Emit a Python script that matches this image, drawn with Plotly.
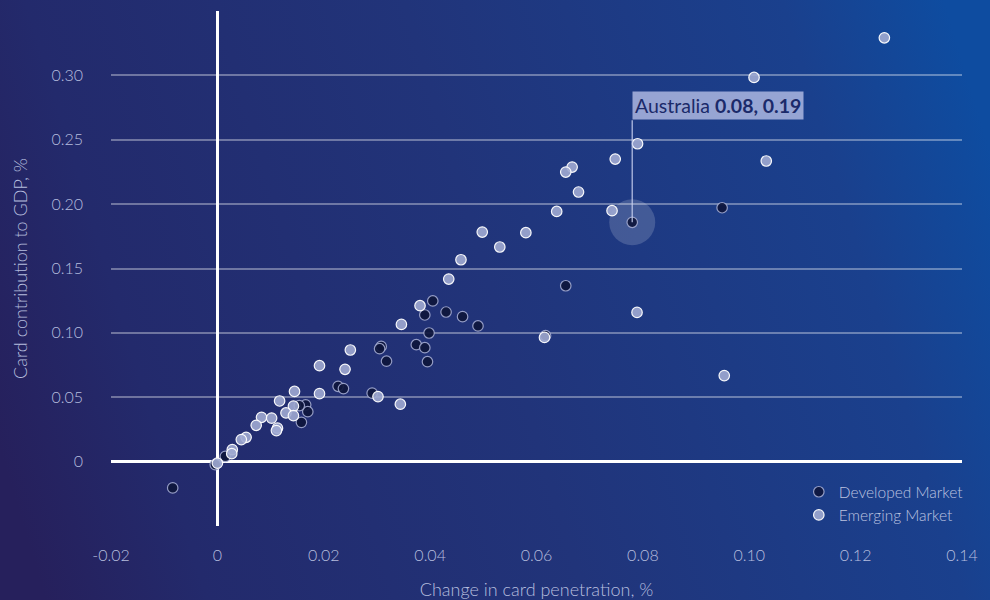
import base64
import plotly.graph_objects as go

# ---------------- data ----------------
dev_x = [0.0949, 0.0780, 0.0655, 0.0617, 0.0405, 0.0390, 0.0430, 0.0461, 0.0490,
         0.0398, 0.0374, 0.0390, 0.0395, 0.0308, 0.0305, 0.0318, 0.0227, 0.0237,
         0.0291, 0.0166, 0.0170, 0.0154, 0.0158, 0.0015, -0.0004, -0.0084]
dev_y = [0.1972, 0.1859, 0.1366, 0.0978, 0.1248, 0.1139, 0.1162, 0.1126, 0.1054,
         0.0999, 0.0908, 0.0885, 0.0776, 0.0895, 0.0877, 0.0780, 0.0585, 0.0567,
         0.0532, 0.0441, 0.0388, 0.0435, 0.0305, 0.0041, -0.0023, -0.0204]

emg_x = [0.1254, 0.1009, 0.1032, 0.0953, 0.0790, 0.0748, 0.0667, 0.0655, 0.0679,
         0.0638, 0.0742, 0.0789, 0.0615, 0.0580, 0.0498, 0.0531, 0.0458, 0.0435,
         0.0381, 0.0346, 0.0250, 0.0192, 0.0240, 0.0192, 0.0302, 0.0344, 0.0145,
         0.0117, 0.0143, 0.0129, 0.0143, 0.0083, 0.0102, 0.0073, 0.0113, 0.0111,
         0.0054, 0.0045, 0.0028, 0.0027, 0.0000]
emg_y = [0.3292, 0.2984, 0.2335, 0.0668, 0.2469, 0.2350, 0.2288, 0.2249, 0.2094,
         0.1943, 0.1949, 0.1159, 0.0965, 0.1778, 0.1783, 0.1667, 0.1568, 0.1418,
         0.1211, 0.1066, 0.0867, 0.0745, 0.0717, 0.0528, 0.0505, 0.0446, 0.0545,
         0.0471, 0.0431, 0.0378, 0.0357, 0.0344, 0.0338, 0.0282, 0.0260, 0.0241,
         0.0189, 0.0171, 0.0093, 0.0062, -0.0012]

highlight_name = "Australia"
highlight_x = 0.0780
highlight_y = 0.1859

x_tickvals = [-0.02, 0, 0.02, 0.04, 0.06, 0.08, 0.10, 0.12, 0.14]
x_ticktext = ["-0.02", "0", "0.02", "0.04", "0.06", "0.08", "0.10", "0.12", "0.14"]
y_tickvals = [0, 0.05, 0.10, 0.15, 0.20, 0.25, 0.30]
y_ticktext = ["0", "0.05", "0.10", "0.15", "0.20", "0.25", "0.30"]

# ---------------- styling ----------------
W, H = 990, 600
ML, MR, MT, MB = 111, 28, 11, 74
PW, PH = W - ML - MR, H - MT - MB
FONT = "Lato"
TICK_COLOR = "#b6bedf"

svg = (
    f'<svg xmlns="http://www.w3.org/2000/svg" width="{W}" height="{H}">'
    '<defs><linearGradient id="g" gradientUnits="userSpaceOnUse" '
    f'x1="0" y1="450" x2="{W}" y2="150">'
    '<stop offset="0" stop-color="#26205c"/>'
    '<stop offset="0.15" stop-color="#232a6c"/>'
    '<stop offset="0.5" stop-color="#21347a"/>'
    '<stop offset="0.85" stop-color="#1a408d"/>'
    '<stop offset="1" stop-color="#0e4ca0"/>'
    '</linearGradient></defs>'
    f'<rect width="{W}" height="{H}" fill="url(#g)"/></svg>'
)
bg_src = "data:image/svg+xml;base64," + base64.b64encode(svg.encode()).decode()

fig = go.Figure()

fig.add_trace(go.Scatter(
    x=[highlight_x], y=[highlight_y], mode="markers",
    marker=dict(size=46, color="rgba(255,255,255,0.17)", line=dict(width=0)),
    hoverinfo="skip", showlegend=False,
))

fig.add_trace(go.Scatter(
    x=dev_x, y=dev_y, mode="markers", name="Developed Market",
    marker=dict(size=10.5, color="rgba(14,22,60,0.92)",
                line=dict(width=1.2, color="rgba(170,178,215,0.85)")),
))

fig.add_trace(go.Scatter(
    x=emg_x, y=emg_y, mode="markers", name="Emerging Market",
    marker=dict(size=10.5, color="rgba(160,170,210,0.9)",
                line=dict(width=1.2, color="rgba(255,255,255,0.95)")),
))

fig.add_annotation(
    x=highlight_x, y=highlight_y, xref="x", yref="y",
    text=f"{highlight_name} <b>{highlight_x:.2f}, {highlight_y:.2f}</b>",
    showarrow=True, arrowhead=0, arrowwidth=1.5,
    arrowcolor="rgba(200,208,240,0.75)", ax=0, ay=-102,
    xanchor="left", yanchor="bottom", standoff=0,
    font=dict(family=FONT, size=19.5, color="#1b2a6a"),
    bgcolor="rgba(178,188,228,0.82)", borderpad=2,
)

light = dict(family=FONT, weight=300)

fig.update_layout(
    width=W, height=H,
    margin=dict(l=ML, r=MR, t=MT, b=MB, autoexpand=False),
    paper_bgcolor="#212f72",
    plot_bgcolor="rgba(0,0,0,0)",
    font=dict(family=FONT, color=TICK_COLOR, size=15),
    images=[dict(
        source=bg_src, xref="paper", yref="paper",
        x=-ML / PW, y=1 + MT / PH, sizex=W / PW, sizey=H / PH,
        xanchor="left", yanchor="top", sizing="stretch", layer="below",
    )],
    showlegend=True,
    legend=dict(
        x=1.008, xanchor="right", y=-0.012, yanchor="bottom",
        bgcolor="rgba(0,0,0,0)", font=dict(**light, size=15.5, color="#bcc3e0"),
        itemclick=False,
    ),
    xaxis=dict(
        range=[-0.02, 0.14], tickvals=x_tickvals, ticktext=x_ticktext,
        showgrid=False, zeroline=True, zerolinecolor="white", zerolinewidth=3,
        showline=False, ticks="", ticklabelstandoff=18, automargin=False,
        tickfont=dict(**light, size=16, color=TICK_COLOR),
        title=dict(text="Change in card penetration, %", standoff=21,
                   font=dict(**light, size=18, color=TICK_COLOR)),
    ),
    yaxis=dict(
        range=[-0.05, 0.35], tickvals=y_tickvals, ticktext=y_ticktext,
        showgrid=True, gridcolor="rgba(255,255,255,0.35)", gridwidth=2,
        zeroline=True, zerolinecolor="white", zerolinewidth=3,
        showline=False, ticks="", ticklabelstandoff=27, automargin=False,
        tickfont=dict(**light, size=16, color=TICK_COLOR),
        title=dict(text="Card contribution to GDP, %", standoff=19,
                   font=dict(**light, size=18, color=TICK_COLOR)),
    ),
)

fig.write_html("out.html", config={"displayModeBar": False},
               post_script="document.body.style.margin='0';")
